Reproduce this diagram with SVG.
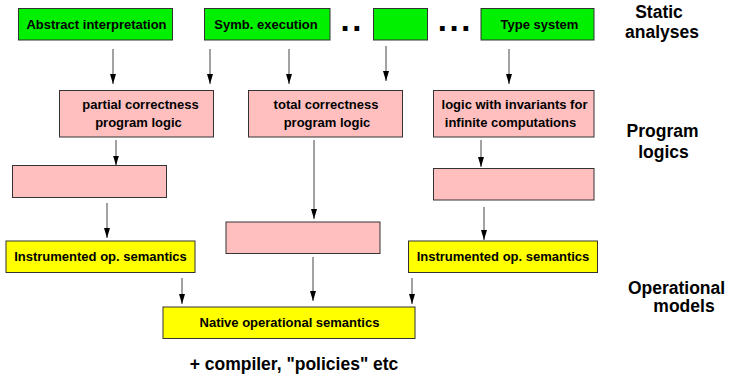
<svg xmlns="http://www.w3.org/2000/svg" width="729" height="376" viewBox="0 0 729 376">
<style>
  .box { stroke: #333; stroke-width: 1; }
  .g { fill: #00f000; }
  .p { fill: #ffbfbf; }
  .y { fill: #ffff00; }
  .t { font-family: "Liberation Sans", Arial, Helvetica, sans-serif; font-weight: bold; font-size: 13px; fill: #000; text-anchor: middle; }
  .h { font-family: "Liberation Sans", Arial, Helvetica, sans-serif; font-weight: bold; font-size: 17.5px; fill: #000; text-anchor: middle; }
  .dots { font-family: "Liberation Sans", Arial, Helvetica, sans-serif; font-weight: bold; font-size: 33px; letter-spacing: 2.5px; fill: #000; }
  .c line { stroke: #444; stroke-width: 1; marker-end: url(#ah); }
</style>
<defs>
  <marker id="ah" viewBox="0 0 10 6" refX="10" refY="3" markerWidth="10" markerHeight="6" markerUnits="userSpaceOnUse" orient="auto">
    <path d="M0,0 L10,3 L0,6 z" fill="#000"/>
  </marker>
</defs>
<rect width="729" height="376" fill="#fff"/>

<g id="abstract-interpretation"><rect class="box g" x="18.5" y="8.5" width="154" height="31.5"/><text class="t" x="96.5" y="29">Abstract interpretation</text></g>
<g id="symb-execution"><rect class="box g" x="204.5" y="8.5" width="125.5" height="31.5"/><text class="t" x="266" y="29">Symb. execution</text></g>
<g id="blank-analysis"><rect class="box g" x="373.5" y="8.5" width="54" height="31.5"/></g>
<g id="type-system"><rect class="box g" x="481" y="8.5" width="113" height="31.5"/><text class="t" x="539.5" y="29">Type system</text></g>
<text class="dots" x="340.5" y="31">..</text>
<text class="dots" x="437.8" y="31">...</text>

<g id="partial-correctness"><rect class="box p" x="59.5" y="90.5" width="154" height="46.5"/><text class="t" x="140.5" y="108.5">partial correctness</text><text class="t" x="138.5" y="126.5">program logic</text></g>
<g id="total-correctness"><rect class="box p" x="248.5" y="90.5" width="154" height="46.5"/><text class="t" x="326" y="108.5">total correctness</text><text class="t" x="327" y="126.5">program logic</text></g>
<g id="logic-invariants"><rect class="box p" x="433.5" y="90.5" width="160.5" height="46.5"/><text class="t" x="514.5" y="108.5">logic with invariants for</text><text class="t" x="510.5" y="126.5">infinite computations</text></g>

<g id="pink-left"><rect class="box p" x="12.5" y="165.5" width="154" height="32"/></g>
<g id="pink-right"><rect class="box p" x="433.5" y="168.5" width="160.5" height="31.5"/></g>
<g id="pink-middle"><rect class="box p" x="226" y="222" width="154" height="31.5"/></g>

<g id="instrumented-left"><rect class="box y" x="6" y="241" width="189" height="31.5"/><text class="t" x="100.5" y="260.5">Instrumented op. semantics</text></g>
<g id="instrumented-right"><rect class="box y" x="408.5" y="241" width="189" height="31.5"/><text class="t" x="503" y="260.5">Instrumented op. semantics</text></g>
<g id="native"><rect class="box y" x="163" y="307" width="252" height="31.5"/><text class="t" x="289.5" y="327">Native operational semantics</text></g>

<g id="connectors" class="c">
  <line x1="113" y1="49" x2="113" y2="84"/>
  <line x1="210" y1="49" x2="210" y2="84"/>
  <line x1="289" y1="49" x2="289" y2="84"/>
  <line x1="386" y1="46" x2="386" y2="81"/>
  <line x1="509" y1="49" x2="509" y2="84"/>
  <line x1="116" y1="140" x2="116" y2="165.5"/>
  <line x1="314" y1="140" x2="314" y2="219"/>
  <line x1="481" y1="140" x2="481" y2="167"/>
  <line x1="107" y1="203" x2="107" y2="238"/>
  <line x1="484" y1="207" x2="484" y2="240"/>
  <line x1="313" y1="257" x2="313" y2="301"/>
  <line x1="182" y1="278" x2="182" y2="304"/>
  <line x1="412" y1="278" x2="412" y2="304"/>
</g>

<g id="labels">
  <text class="h" x="659" y="17.5">Static</text>
  <text class="h" x="662" y="38">analyses</text>
  <text class="h" x="662.5" y="137">Program</text>
  <text class="h" x="663.5" y="158">logics</text>
  <text class="h" x="676.5" y="293.5">Operational</text>
  <text class="h" x="684" y="312">models</text>
  <text class="h" x="294" y="370">+ compiler, "policies" etc</text>
</g>
</svg>
